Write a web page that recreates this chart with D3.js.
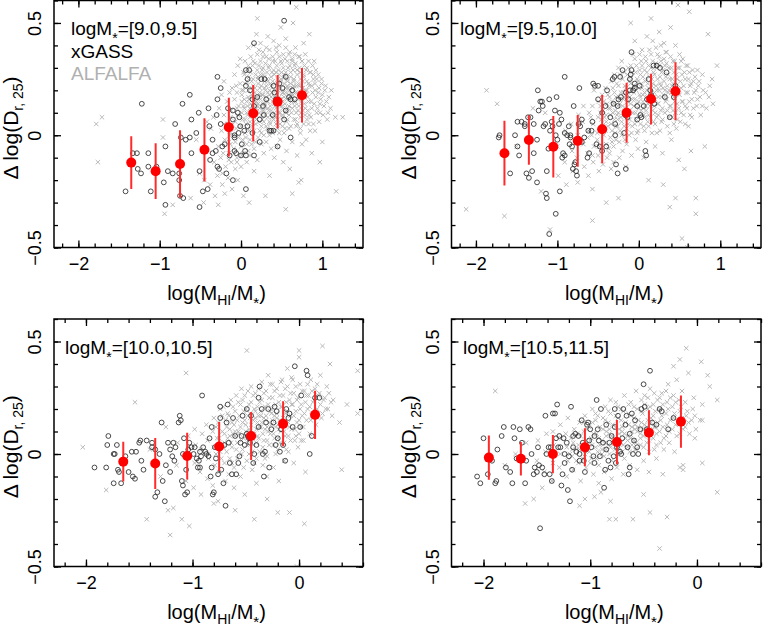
<!DOCTYPE html>
<html><head><meta charset="utf-8">
<script src="https://cdn.jsdelivr.net/npm/d3@7"></script>
<style>body{margin:0;background:#fff}svg text{font-family:"Liberation Sans",Arial,Helvetica,sans-serif}</style>
</head><body><svg id="c" width="763" height="631"></svg>
<script>
// ---------------- DATA ----------------
const massBins = ["9.0,9.5","9.5,10.0","10.0,10.5","10.5,11.5"];
const xDomains = [[-2.3,1.5],[-2.3,1.5],[-2.3,0.6],[-2.3,0.6]];
const yDomain = [-0.5,0.6];
const xTickValues = [[-2,-1,0,1],[-2,-1,0,1],[-2,-1,0],[-2,-1,0]];
const yTickValues = [-0.5,0,0.5];
const legendNames = ["xGASS","ALFALFA"];

// running medians (red) with error bars
const medX1 = [-1.35,-1.05,-0.75,-0.45,-0.15,0.15,0.45,0.75];
const medY1 = [-0.122,-0.160,-0.128,-0.065,0.036,0.098,0.149,0.178];
const medE1 = [0.117,0.124,0.150,0.141,0.131,0.126,0.119,0.121];
const medX2 = [-1.65,-1.35,-1.05,-0.75,-0.45,-0.15,0.15,0.45];
const medY2 = [-0.080,-0.021,-0.051,-0.025,0.027,0.100,0.161,0.196];
const medE2 = [0.144,0.110,0.137,0.115,0.152,0.134,0.113,0.129];
const medX3 = [-1.65,-1.35,-1.05,-0.75,-0.45,-0.15,0.15];
const medY3 = [-0.034,-0.042,-0.009,0.033,0.080,0.134,0.174];
const medE3 = [0.088,0.113,0.104,0.109,0.107,0.100,0.107];
const medX4 = [-1.95,-1.65,-1.35,-1.05,-0.75,-0.45,-0.15];
const medY4 = [-0.016,-0.021,0.000,0.030,0.053,0.095,0.144];
const medE4 = [0.098,0.074,0.085,0.084,0.098,0.100,0.116];

// xGASS galaxies (open circles), flat x,y lists
const xgass1 = [-1.22,.14,-.63,.18,-.72,.14,-.29,.26,-.25,.21,-1.42,-.25,-1.33,-.08,-1.28,-.08,-1.14,-.08,-1.14,-.14,-1.23,-.17,-1.27,-.15,-1.11,-.25,-1.04,-.14,-.95,-.21,-.93,-.05,-.90,-.16,-.84,-.17,-.93,-.31,-.81,.05,-.76,-.17,-.76,-.20,-.75,-.27,-.71,-.28,-.68,-.02,-.74,-.01,-.61,-.08,-.63,-.01,-.55,.01,-.51,-.16,-.47,-.25,-.41,-.24,-.51,-.32,-.61,.07,-.52,.10,-.40,.12,-.39,.04,-.35,-.02,-.30,.09,-.29,.16,-.25,.05,-.29,-.14,-.27,-.15,-.23,-.05,-.18,-.17,-.16,.12,-.14,.03,-.10,.11,-.10,-.20,-.08,-.07,-.06,-.08,-.04,.10,-.02,.08,-.01,.04,0,-.09,.05,-.07,.06,-.24,.06,-.09,.08,.25,.06,.22,.06,.29,.10,.29,.11,.20,.16,.41,.16,.13,.16,-.09,.20,.17,.23,-.03,.25,.25,.28,.09,.29,.25,.31,.16,.35,.02,.37,.02,.39,.09,.40,.02,.41,.19,.45,-.05,.47,.23,.51,.21,.53,.51,.53,.07,.55,.11,.59,.17,.61,.16,.61,-.01,.63,.20,.66,.16,.55,.26,.40,.22,-.03,.01,-.08,0,.04,.02,.14,.01,.08,.04,.23,.07,-.10,.07,.14,.16,.27,.13,.43,.16,-.31,-.07,-.35,-.08,-.38,-.11,-.20,-.04,-.14,-.09,-.08,-.01,.01,-.04];
const xgass2 = [-1.72,-.01,-1.71,0,-1.58,-.17,-1.52,0,-1.49,-.05,-1.49,.06,-1.47,-.09,-1.44,.06,-1.40,.05,-1.40,.04,-1.36,.08,-1.33,.08,-1.38,-.17,-1.35,-.19,-1.31,-.16,-1.25,-.21,-1.29,-.08,-1.29,.05,-1.25,-.02,-1.24,.20,-1.23,.11,-1.21,.15,-1.19,.15,-1.18,.13,-1.17,.04,-1.15,.05,-1.13,-.16,-1.14,-.26,-1.13,-.28,-1.11,-.06,-1.10,.16,-1.09,.02,-1.07,.06,-1.06,.04,-1.05,-.05,-1.03,.11,-1.02,0,-1.01,.17,-1.00,-.02,-.98,.05,-.97,.10,-.97,-.25,-.95,.07,-.94,-.10,-.93,-.08,-.91,.26,-.91,.01,-.91,-.09,-.88,0,-.86,.04,-.85,-.04,-.84,-.01,-.84,0,-.82,-.05,-.81,-.15,-.80,.13,-.79,-.13,-.78,-.12,-.77,-.16,-.76,-.18,-.74,.05,-.73,.21,-.72,.04,-.70,.07,-.70,-.03,-.67,-.01,-.63,-.10,-.62,.02,-.61,-.08,-.58,.02,-.57,.06,-.56,.23,-.54,.22,-.52,-.04,-.50,.16,-.50,.22,-.48,-.05,-.45,-.07,-.45,.10,-.41,.13,-.40,-.05,-.39,.20,-.35,.08,-.32,.25,-.31,.14,-.30,.26,-.29,.05,-.29,0,-.28,-.13,-.26,-.17,-.25,.16,-.26,.13,-.23,.26,-.22,.17,-.20,.29,-.18,.01,-.17,.09,-.16,.19,-.16,-.15,-.14,.08,-.13,.16,-.11,.25,-.11,.20,-.10,.27,-.09,.37,-.09,.29,-.07,.20,-.05,.23,-.05,.21,-.02,.13,-.02,.07,.01,.22,.02,.09,.03,.08,.06,.13,.08,-.07,.09,-.09,.10,.16,.12,.25,.14,.20,.15,.18,.18,.31,.19,.14,.22,.31,.26,.30,.32,.17,.34,.28,.38,.08,.43,.17,.45,.22,-1.02,-.35,-1.10,-.44];
const xgass3 = [-1.92,-.06,-1.81,-.06,-1.80,.04,-1.79,.08,-1.74,0,-1.73,0,-1.74,-.13,-1.70,-.07,-1.69,-.08,-1.71,.04,-1.67,-.13,-1.63,-.01,-1.60,-.08,-1.57,.01,-1.56,-.10,-1.54,-.11,-1.53,.01,-1.50,.05,-1.49,.06,-1.48,-.03,-1.46,-.07,-1.43,.06,-1.38,.03,-1.38,.05,-1.35,.02,-1.35,-.19,-1.33,-.17,-1.31,0,-1.29,.14,-1.28,-.12,-1.26,-.21,-1.25,-.05,-1.23,.05,-1.21,.02,-1.21,-.08,-1.19,-.01,-1.18,.05,-1.17,-.03,-1.16,.03,-1.13,.14,-1.12,.17,-1.11,.15,-1.10,-.12,-1.09,-.14,-1.09,0,-1.08,.07,-1.07,-.18,-1.05,-.17,-1.06,-.01,-1.06,-.07,-1.04,.02,-1.03,.05,-1.01,.03,-.99,0,-.98,.03,-.96,-.02,-.95,-.06,-.94,-.03,-.93,.01,-.93,-.06,-.92,-.01,-.91,.26,-.90,.03,-.88,.01,-.87,0,-.85,-.01,-.84,.07,-.83,-.10,-.82,-.06,-.82,.12,-.81,-.18,-.80,-.17,-.79,.03,-.78,-.02,-.76,-.09,-.74,.16,-.74,.21,-.73,-.07,-.71,-.13,-.70,.04,-.69,-.23,-.68,.14,-.67,.22,-.66,.05,-.65,-.04,-.63,-.09,-.62,.16,-.60,.08,-.59,-.09,-.57,-.04,-.56,-.01,-.55,.05,-.54,.08,-.53,.17,-.51,.04,-.49,.20,-.49,.09,-.48,.08,-.47,.07,-.46,.05,-.45,.17,-.43,-.04,-.42,0,-.40,.04,-.38,.25,-.38,.12,-.37,.30,-.35,.20,-.34,0,-.33,-.10,-.32,.01,-.31,.14,-.29,.20,-.28,-.06,-.26,.11,-.24,.14,-.23,.21,-.22,.04,-.21,.19,-.20,.07,-.18,.01,-.17,.11,-.15,.04,-.13,-.03,-.12,.20,-.10,.16,-.09,.18,-.06,.12,-.04,.39,.01,.12,.02,.26,.07,.37,.08,.35,.10,0,.12,.08,.15,.25,.19,.25];
const xgass4 = [-2.06,-.10,-2.03,-.13,-2.00,.07,-1.96,-.09,-1.92,-.03,-1.89,-.13,-1.88,-.12,-1.87,.02,-1.83,.08,-1.81,.12,-1.79,-.06,-1.75,-.08,-1.73,-.13,-1.72,.12,-1.71,.07,-1.69,-.02,-1.66,.11,-1.64,.05,-1.61,-.13,-1.60,-.03,-1.58,.12,-1.56,.11,-1.55,0,-1.53,-.09,-1.52,-.06,-1.50,-.08,-1.49,.03,-1.48,-.05,-1.47,-.33,-1.45,-.06,-1.43,-.09,-1.42,.17,-1.41,0,-1.39,.03,-1.38,-.09,-1.37,.03,-1.36,-.12,-1.35,.18,-1.33,.18,-1.32,.07,-1.31,.22,-1.30,.03,-1.29,.08,-1.28,.03,-1.27,-.14,-1.26,-.09,-1.25,.07,-1.24,-.04,-1.24,0,-1.22,.05,-1.21,-.16,-1.20,-.01,-1.19,-.21,-1.18,.21,-1.17,-.07,-1.16,.08,-1.16,.03,-1.14,.09,-1.13,.01,-1.11,.08,-1.10,-.03,-1.10,0,-1.08,.15,-1.07,.05,-1.06,-.03,-1.05,-.08,-1.04,.02,-1.03,.13,-1.02,.14,-1.01,.06,-1.00,.11,-.99,.03,-.97,-.01,-.96,-.04,-.96,.08,-.94,.24,-.93,.11,-.92,.06,-.91,-.01,-.90,.20,-.88,.05,-.87,-.15,-.86,-.07,-.85,.13,-.85,.02,-.83,-.03,-.82,.05,-.81,-.06,-.80,.08,-.78,-.01,-.77,.20,-.77,.12,-.76,-.04,-.75,.03,-.74,.17,-.72,.01,-.71,0,-.70,.07,-.69,.20,-.67,.13,-.66,.17,-.65,.03,-.64,-.09,-.63,-.06,-.63,.09,-.61,.18,-.60,0,-.59,.06,-.58,.15,-.56,.03,-.55,0,-.53,.11,-.52,.20,-.50,.31,-.49,.21,-.47,.11,-.46,.10,-.44,.37,-.42,.14,-.38,.13,-.35,.20,-.33,.19,-.27,.11,-.22,.16];

// ALFALFA galaxies (grey crosses), flat x,y lists
const alfalfa1 = [-.38,-.22,-.37,.03,-.33,-.12,-.34,.08,-.32,-.27,-.28,-.05,-.29,-.18,-.27,.12,-.28,-.31,-.24,.02,-.25,-.10,-.23,-.22,-.24,.18,-.20,-.02,-.21,.09,-.19,-.14,-.20,-.26,-.21,.24,-.16,.05,-.15,-.08,-.17,.15,-.16,-.19,-.15,-.03,-.12,.11,-.13,-.04,-.11,.21,-.12,-.12,-.13,.01,-.11,-.24,-.08,.16,-.07,.06,-.09,-.06,-.08,.27,-.07,-.15,-.09,0,-.04,.09,-.05,.19,-.03,-.01,-.04,.31,-.05,-.10,-.03,.13,-.04,-.20,0,.04,.01,.15,-.01,.23,0,-.05,.01,.10,-.01,.34,0,-.14,.01,.18,.04,.12,.03,.20,.05,.01,.04,.27,.03,-.08,.05,.07,.04,.16,.03,-.27,.08,.09,.09,.17,.07,.24,.08,.03,.09,.31,.07,-.04,.08,.13,.09,.39,.07,-.12,.12,.14,.11,.06,.13,.21,.12,.28,.11,-.02,.13,.11,.12,.35,.11,-.09,.13,.18,.16,.10,.17,.19,.15,.25,.16,.02,.17,.15,.15,.33,.16,-.06,.17,.08,.15,.22,.16,-.16,.20,.13,.19,.07,.21,.23,.20,.29,.19,.17,.21,-.01,.20,.36,.19,.10,.21,.26,.20,-.11,.19,.45,.24,.16,.25,.09,.23,.21,.24,.27,.25,.04,.23,.12,.24,.33,.25,-.04,.23,.19,.24,.41,.28,.11,.27,.18,.29,.24,.28,.06,.27,.30,.29,.14,.28,0,.27,.37,.29,.21,.28,-.08,.27,.27,.32,.15,.33,.08,.31,.22,.32,.28,.33,.12,.31,.35,.32,.03,.33,.19,.31,-.03,.32,.25,.33,.44,.36,.13,.35,.20,.37,.26,.36,.09,.35,.31,.37,.17,.36,.05,.35,.38,.37,-.06,.36,.23,.35,-.18,.40,.16,.41,.10,.39,.24,.40,.29,.41,.14,.39,.35,.40,.07,.41,.20,.39,.01,.40,.42,.41,-.10,.44,.18,.43,.12,.45,.25,.44,.31,.43,.08,.45,.22,.44,.37,.43,.15,.45,.03,.44,-.05,.43,.28,.48,.14,.49,.21,.47,.27,.48,.10,.49,.33,.47,.17,.48,.05,.49,.24,.47,.40,.48,-.02,.49,.48,.52,.19,.51,.12,.53,.26,.52,.30,.51,.08,.53,.23,.52,.36,.51,.15,.53,.01,.52,-.12,.56,.16,.57,.22,.55,.28,.56,.11,.57,.33,.55,.19,.56,.06,.57,.25,.55,.43,.56,-.07,.60,.20,.59,.13,.61,.26,.60,.31,.59,.09,.61,.17,.60,.37,.59,.03,.61,.23,.60,-.15,.64,.18,.65,.24,.63,.12,.64,.29,.65,.07,.63,.34,.64,.21,.65,.15,.63,-.03,.64,.50,.68,.22,.67,.15,.69,.27,.68,.10,.67,.32,.69,.19,.68,.04,.67,.39,.69,-.09,.72,.19,.73,.25,.71,.13,.72,.30,.73,.08,.71,.22,.72,.35,.73,.01,.71,-.21,.76,.21,.75,.16,.77,.27,.76,.11,.75,.33,.77,.05,.76,.24,.75,-.04,.77,.41,.80,.18,.81,.24,.79,.12,.80,.29,.81,.07,.79,.36,.80,-.02,.81,.20,.84,.22,.83,.15,.85,.28,.84,.09,.83,.33,.85,.02,.84,.45,.88,.19,.89,.25,.87,.12,.88,.31,.89,.05,.87,-.08,.92,.17,.91,.23,.93,.10,.92,.29,.91,.02,.96,.21,.97,.14,.95,.27,.96,.06,.97,-.12,1.0,.18,1.01,.09,.99,.25,1.0,-.03,1.05,.15,1.04,.22,1.06,.07,1.10,.12,1.11,.20,1.16,.08,1.17,-.25,1.25,.08,-1.78,.05,-1.71,.08,-1.76,-.12,-.96,.07,-.96,-.01,-.94,-.35,-.84,-.31,-.51,-.17,-.62,-.28,-.55,-.02,-.45,-.20,-.42,.06,.74,-.20,.55,-.33,.63,-.26,.30,-.27,.10,-.30,.68,.57,.20,.52,-.46,-.30,
 -.22,-.08,-.21,.05,-.23,-.17,-.14,0,-.13,.08,-.15,-.11,-.14,.19,-.06,.03,-.05,.12,-.07,-.03,-.06,.22,-.05,-.12,.02,.07,.03,.13,.01,.20,.02,-.02,.03,.28,.01,-.09,.06,.05,.07,.15,.05,.23,.06,-.01,.07,.10,.05,.33,.10,.02,.11,.12,.09,.20,.10,.26,.11,.08,.09,-.07,.10,.16,.14,.04,.15,.17,.13,.24,.14,.31,.15,.09,.13,-.04,.14,.13,.15,.40,.18,.05,.19,.12,.17,.21,.18,.27,.19,.15,.17,.32,.18,-.03,.19,.09,.22,.10,.23,.18,.21,.25,.22,.31,.23,.02,.21,.14,.22,.38,.23,.06,.26,.07,.27,.14,.25,.22,.26,.29,.27,.35,.25,.01,.26,.18,.27,.11,.30,.09,.31,.17,.29,.26,.30,.32,.31,.04,.29,.13,.30,.20,.31,.39,.34,.11,.35,.18,.33,.24,.34,.30,.35,.06,.33,.15,.34,.34,.35,0,.38,.08,.39,.15,.37,.22,.38,.28,.39,.33,.37,.11,.38,.19,.39,.02,.42,.13,.43,.20,.41,.27,.42,.33,.43,.05,.41,.17,.42,.23,.43,.39,.46,.10,.47,.16,.45,.23,.46,.29,.47,.35,.45,.07,.46,.20,.47,.01,.50,.13,.51,.19,.49,.25,.50,.32,.51,.09,.49,.16,.50,.28,.51,.04,.54,.14,.55,.21,.53,.27,.54,.34,.55,.10,.53,.17,.54,.03,.55,.39,.58,.12,.59,.18,.57,.24,.58,.30,.59,.36,.57,.07,.58,.21,.62,.15,.63,.21,.61,.28,.62,.10,.63,.33,.61,.04,.62,.18,.66,.13,.67,.19,.65,.25,.66,.31,.67,.07,.65,.22,.66,.36,.70,.16,.71,.23,.69,.29,.70,.11,.71,.35,.69,.05,.74,.15,.75,.21,.73,.28,.74,.10,.75,.33,.73,.03,.78,.14,.79,.20,.77,.26,.78,.31,.79,.09,.82,.17,.83,.23,.81,.30,.82,.11,.83,.05,.86,.15,.87,.22,.85,.28,.86,.08,.90,.14,.91,.20,.89,.27,.90,.33,.94,.12,.95,.19,.93,.25,.98,.16,.99,.23,.97,.10,1.02,.13,1.03,.20,1.08,.17,1.07,.10];
const alfalfa2 = [-1.0,-.05,-.99,-.18,-.90,.02,-.91,-.12,-.89,-.22,-.82,-.07,-.83,.05,-.81,-.16,-.75,0,-.76,-.10,-.74,.09,-.75,-.21,-.68,-.04,-.69,.06,-.67,-.14,-.68,.13,-.62,.02,-.63,-.08,-.61,.10,-.62,-.18,-.63,-.01,-.56,.05,-.55,-.05,-.57,.13,-.56,-.12,-.55,.20,-.57,-.24,-.50,.08,-.51,-.02,-.49,.15,-.50,-.09,-.51,.01,-.49,-.16,-.45,.04,-.44,.11,-.46,-.06,-.45,.18,-.44,-.13,-.46,.07,-.40,.09,-.41,.02,-.39,.14,-.40,-.04,-.41,.21,-.39,-.10,-.40,.06,-.35,.12,-.34,.05,-.36,.17,-.35,-.01,-.34,.24,-.36,-.08,-.35,.09,-.34,-.15,-.30,.07,-.31,.14,-.29,.01,-.30,.19,-.31,-.05,-.29,.11,-.30,.27,-.31,-.12,-.25,.10,-.24,.16,-.26,.04,-.25,.22,-.24,-.03,-.26,.13,-.25,.30,-.24,-.10,-.26,.07,-.20,.13,-.21,.06,-.19,.19,-.20,.25,-.21,0,-.19,.10,-.20,-.07,-.21,.33,-.19,.16,-.15,.09,-.14,.15,-.16,.21,-.15,.03,-.14,.27,-.16,.12,-.15,-.04,-.14,.18,-.16,-.14,-.10,.14,-.11,.07,-.09,.20,-.10,.26,-.11,.11,-.09,.01,-.10,.31,-.11,.17,-.09,-.09,-.10,.23,-.05,.16,-.04,.10,-.06,.22,-.05,.05,-.04,.28,-.06,.13,-.05,.34,-.04,-.02,-.06,.19,-.05,.42,0,.12,.01,.18,-.01,.24,0,.08,.01,.29,-.01,.02,0,.15,.01,.36,-.01,-.06,0,.21,.05,.15,.04,.21,.06,.09,.05,.26,.04,.31,.06,.04,.05,.18,.04,.38,.06,-.10,.05,.12,.10,.17,.11,.23,.09,.11,.10,.28,.11,.06,.09,.33,.10,.20,.11,.14,.09,-.03,.10,.44,.15,.19,.14,.13,.16,.25,.15,.30,.14,.08,.16,.22,.15,.36,.14,.16,.16,.01,.15,.52,.20,.16,.21,.22,.19,.27,.20,.10,.21,.32,.19,.19,.20,.05,.21,.39,.19,.13,.20,-.05,.25,.20,.24,.14,.26,.26,.25,.31,.24,.09,.26,.23,.25,.35,.24,.17,.26,.02,.25,.46,.30,.18,.31,.24,.29,.12,.30,.29,.31,.34,.29,.07,.30,.21,.31,.41,.29,-.08,.35,.22,.34,.16,.36,.27,.35,.11,.34,.32,.36,.19,.35,.04,.34,.37,.40,.19,.41,.25,.39,.13,.40,.30,.41,.08,.39,.35,.40,-.02,.41,.22,.39,.48,.45,.21,.44,.15,.46,.27,.45,.10,.44,.33,.46,.03,.45,.40,.50,.18,.51,.24,.49,.12,.50,.30,.51,.06,.49,-.11,.50,.36,.55,.22,.54,.15,.56,.28,.55,.09,.54,.34,.56,-.15,.60,.19,.61,.25,.59,.12,.60,.31,.61,.04,.65,.16,.64,.23,.66,.29,.65,.08,.64,-.07,.70,.20,.71,.13,.69,.26,.70,-.28,.75,.17,.74,.24,.76,.09,.82,.19,.83,.12,.81,-.05,.90,.25,.91,.14,.96,.31,-2.12,-.33,-1.87,.20,-1.74,.14,-1.65,-.36,-1.09,-.42,-1.50,-.05,-1.30,.12,-1.20,-.25,-1.15,.10,-.57,-.38,.53,-.46,.60,-.50,.30,-.22,.45,-.28,.12,-.20,-.25,-.28,-.40,-.30,.70,-.35,.38,-.32,.62,.55,-.10,.50,.85,.45,.48,.58,
 -.58,0,-.59,.08,-.57,-.09,-.48,.02,-.47,.10,-.48,-.05,-.47,.13,-.43,0,-.42,.08,-.43,.15,-.38,.04,-.37,.12,-.38,.18,-.37,-.06,-.33,.02,-.32,.10,-.33,.15,-.32,.21,-.33,-.03,-.28,.04,-.27,.09,-.28,.17,-.27,.23,-.28,-.02,-.23,.02,-.22,.08,-.23,.14,-.22,.19,-.23,.27,-.18,.04,-.17,.11,-.18,.17,-.17,.22,-.18,.28,-.17,-.02,-.13,.05,-.12,.11,-.13,.19,-.12,.24,-.13,.30,-.12,0,-.08,.04,-.07,.10,-.08,.16,-.07,.22,-.08,.28,-.07,.36,-.03,.07,-.02,.14,-.03,.20,-.02,.25,-.03,.31,-.02,.01,.02,.05,.03,.11,.02,.17,.03,.23,.02,.27,.03,.33,.07,.08,.08,.13,.07,.19,.08,.24,.07,.29,.08,.35,.07,.02,.12,.09,.13,.15,.12,.21,.13,.26,.12,.31,.13,.38,.12,.04,.17,.11,.18,.17,.17,.23,.18,.28,.17,.33,.18,.06,.17,.42,.22,.08,.23,.14,.22,.20,.23,.25,.22,.30,.23,.36,.22,.01,.27,.11,.28,.17,.27,.22,.28,.28,.27,.33,.28,.06,.27,.40,.32,.10,.33,.15,.32,.20,.33,.26,.32,.31,.33,.37,.37,.08,.38,.13,.37,.20,.38,.25,.37,.30,.38,.01,.42,.11,.43,.17,.42,.23,.43,.28,.42,.33,.43,.05,.47,.14,.48,.19,.47,.25,.48,.30,.47,.07,.52,.10,.53,.15,.52,.21,.53,.27,.52,.33,.57,.13,.58,.19,.57,.25,.58,.31,.57,.05,.62,.15,.63,.22,.62,.28,.63,.09,.67,.12,.68,.19,.67,.24,.72,.16,.73,.22,.72,.29,.78,.13,.79,.20,.78,.27,.86,.17,.87,.22];
const alfalfa3 = [-1.15,-.05,-1.14,.05,-1.05,0,-1.06,-.12,-1.04,.08,-.98,-.04,-.97,.04,-.99,-.15,-.98,.11,-.92,.02,-.93,-.08,-.91,.09,-.92,-.18,-.86,.06,-.85,-.02,-.87,.13,-.86,-.11,-.85,0,-.80,.03,-.81,.10,-.79,-.05,-.80,.16,-.81,-.14,-.75,.07,-.74,.01,-.76,.14,-.75,-.08,-.74,.20,-.76,-.21,-.70,.09,-.71,.03,-.69,.15,-.70,-.04,-.71,.21,-.69,-.12,-.70,.05,-.65,.11,-.64,.05,-.66,.17,-.65,-.02,-.64,.24,-.66,-.09,-.65,.08,-.60,.08,-.61,.13,-.59,.02,-.60,.19,-.61,-.06,-.59,.26,-.60,.10,-.61,-.15,-.55,.12,-.54,.06,-.56,.17,-.55,.22,-.54,0,-.56,.09,-.55,-.10,-.54,.29,-.50,.10,-.51,.15,-.49,.04,-.50,.20,-.51,.26,-.49,-.03,-.50,.13,-.51,-.18,-.49,.08,-.45,.13,-.44,.07,-.46,.18,-.45,.23,-.44,.01,-.46,.10,-.45,.30,-.44,-.07,-.46,.16,-.40,.11,-.41,.16,-.39,.21,-.40,.05,-.41,.27,-.39,.14,-.40,-.02,-.41,.19,-.39,.08,-.40,-.13,-.35,.14,-.34,.09,-.36,.19,-.35,.24,-.34,.03,-.36,.12,-.35,.32,-.34,-.05,-.36,.17,-.30,.12,-.31,.17,-.29,.22,-.30,.06,-.31,.28,-.29,.10,-.30,-.01,-.31,.15,-.29,.35,-.30,-.10,-.25,.15,-.24,.09,-.26,.20,-.25,.25,-.24,.04,-.26,.13,-.25,.31,-.24,-.06,-.26,.18,-.20,.13,-.21,.18,-.19,.23,-.20,.07,-.21,.29,-.19,.11,-.20,.02,-.21,.16,-.19,-.12,-.15,.16,-.14,.10,-.16,.21,-.15,.26,-.14,.05,-.16,.33,-.15,.14,-.14,-.03,-.10,.14,-.11,.19,-.09,.24,-.10,.08,-.11,.30,-.09,.12,-.10,.01,-.11,.38,-.05,.17,-.04,.11,-.06,.22,-.05,.27,-.04,.06,-.06,.33,-.05,-.04,0,.15,.01,.20,-.01,.25,0,.09,.01,.31,-.01,.03,0,.43,.05,.18,.04,.12,.06,.23,.05,.28,.04,.06,.06,-.08,.10,.21,.11,.15,.09,.26,.10,.09,.11,.33,.15,.19,.14,.24,.16,.13,.15,.29,.20,.22,.21,.16,.19,.27,.20,.35,.25,.20,.24,.25,.26,.30,.30,.23,.31,.17,.38,.14,.45,.22,.55,.37,.55,.18,-2.03,.03,-1.54,.23,-1.81,-.16,-1.43,-.29,-1.23,-.25,-1.18,-.24,-1.10,-.29,-1.03,-.32,-1.21,-.36,-1.06,.36,-.49,.46,-.42,-.29,-.09,-.26,.05,-.31,0,.46,.22,.48,.29,.40,.40,-.07,.32,.24,-.60,-.25,-.80,-.22,-.30,-.20,-1.30,-.10,-1.40,.02,-1.25,.12,-.20,-.26,-.02,-.50,
 -.78,0,-.77,.07,-.78,.12,-.73,.04,-.72,.10,-.73,-.02,-.72,.17,-.68,.01,-.67,.07,-.68,.12,-.67,.18,-.63,.03,-.62,.09,-.63,.14,-.62,.21,-.63,-.04,-.58,.05,-.57,.10,-.58,.15,-.57,.23,-.58,-.02,-.53,.02,-.52,.07,-.53,.14,-.52,.19,-.53,.24,-.52,-.06,-.48,.06,-.47,.11,-.48,.17,-.47,.22,-.48,.28,-.47,0,-.43,.04,-.42,.09,-.43,.15,-.42,.20,-.43,.26,-.42,-.04,-.38,.07,-.37,.12,-.38,.17,-.37,.23,-.38,.29,-.37,.01,-.33,.06,-.32,.11,-.33,.16,-.32,.21,-.33,.27,-.32,-.02,-.28,.04,-.27,.09,-.28,.14,-.27,.19,-.28,.25,-.27,.31,-.23,.07,-.22,.12,-.23,.17,-.22,.22,-.23,.28,-.22,0,-.18,.05,-.17,.10,-.18,.15,-.17,.21,-.18,.26,-.17,.32,-.13,.08,-.12,.13,-.13,.18,-.12,.23,-.13,.29,-.12,.02,-.08,.06,-.07,.11,-.08,.17,-.07,.22,-.08,.27,-.07,.34,-.03,.08,-.02,.14,-.03,.19,-.02,.24,-.03,.30,.02,.12,.03,.17,.02,.22,.03,.28,.02,.06,.07,.15,.08,.20,.07,.26,.08,.31,.12,.17,.13,.23,.12,.28,.17,.20,.18,.26,.17,.31,.22,.18,.23,.24,.28,.27,.27,.20];
const alfalfa4 = [-1.50,-.03,-1.49,.06,-1.42,.01,-1.43,-.08,-1.41,.09,-1.35,-.04,-1.34,.04,-1.36,-.12,-1.35,.10,-1.28,0,-1.29,-.06,-1.27,.07,-1.28,.13,-1.22,.03,-1.21,-.03,-1.23,.09,-1.22,-.10,-1.21,.16,-1.16,.05,-1.17,-.01,-1.15,.11,-1.16,-.07,-1.17,.02,-1.10,.02,-1.09,.08,-1.11,-.04,-1.10,.14,-1.09,-.12,-1.11,.04,-1.04,.06,-1.05,0,-1.03,.11,-1.04,-.06,-1.05,.17,-1.03,.03,-.98,.04,-.97,.09,-.99,-.02,-.98,.14,-.97,-.09,-.99,.07,-.98,.20,-.92,.07,-.93,.01,-.91,.12,-.92,-.05,-.93,.17,-.91,.04,-.92,-.13,-.86,.05,-.85,.10,-.87,-.01,-.86,.15,-.85,.02,-.87,-.08,-.86,.21,-.85,.08,-.80,.08,-.81,.03,-.79,.13,-.80,-.03,-.81,.18,-.79,.06,-.80,-.11,-.81,.24,-.74,.06,-.73,.11,-.75,0,-.74,.16,-.73,.09,-.75,-.06,-.74,.21,-.73,.03,-.68,.09,-.69,.04,-.67,.14,-.68,-.02,-.69,.19,-.67,.07,-.68,.26,-.69,-.09,-.62,.07,-.61,.12,-.63,.01,-.62,.17,-.61,.10,-.63,-.05,-.62,.23,-.61,.04,-.56,.10,-.57,.05,-.55,.15,-.56,.20,-.57,.02,-.55,.12,-.56,-.07,-.57,.28,-.50,.08,-.49,.13,-.51,.18,-.50,.03,-.49,.22,-.51,.11,-.50,-.03,-.49,.26,-.44,.11,-.45,.06,-.43,.16,-.44,.21,-.45,.01,-.43,.14,-.44,.29,-.45,-.08,-.38,.09,-.37,.14,-.39,.19,-.38,.04,-.37,.24,-.39,.12,-.38,-.02,-.32,.12,-.33,.17,-.31,.07,-.32,.22,-.33,.27,-.31,.02,-.32,-.09,-.26,.10,-.25,.15,-.27,.20,-.26,.05,-.25,.25,-.27,.31,-.20,.13,-.21,.18,-.19,.08,-.20,.23,-.21,.01,-.19,.33,-.14,.16,-.13,.11,-.15,.21,-.14,.28,-.13,-.05,-.08,.14,-.09,.19,-.07,.09,-.08,.36,-.02,.17,-.01,.11,-.03,.25,.05,.22,.05,.15,.12,.30,.19,.24,.19,-.17,-1.89,.28,-1.61,-.22,-1.53,-.20,-1.10,-.23,-1.05,-.20,-.96,-.19,-.81,-.21,-.82,-.29,-.76,-.29,-.60,-.29,-.44,-.26,-.28,-.28,-.35,-.42,-.10,.47,.04,.41,-.16,.42,-.22,.39,.03,.15,-.02,.07,-.16,-.06,-.13,-.07,-1.70,0,-1.80,-.05,-1.60,.05,-1.45,-.15,-.50,-.18,-.90,-.17,.10,.35,.05,-.04,
 -1.19,0,-1.18,.07,-1.13,.02,-1.12,.09,-1.13,-.03,-1.07,.04,-1.06,.10,-1.07,-.02,-1.06,.14,-1.01,.01,-1.00,.06,-1.01,.12,-1.00,-.04,-.95,.03,-.94,.09,-.95,.15,-.94,-.02,-.95,.18,-.89,.06,-.88,.11,-.89,0,-.88,.16,-.89,.02,-.83,.04,-.82,.09,-.83,.14,-.82,0,-.83,.19,-.82,.11,-.77,.07,-.76,.12,-.77,.02,-.76,.17,-.77,.05,-.76,.23,-.71,.05,-.70,.10,-.71,.15,-.70,.01,-.71,.20,-.70,.12,-.65,.08,-.64,.13,-.65,.03,-.64,.18,-.65,.06,-.64,.22,-.59,.06,-.58,.11,-.59,.16,-.58,.02,-.59,.21,-.58,.13,-.53,.09,-.52,.14,-.53,.04,-.52,.19,-.53,.07,-.52,.24,-.47,.10,-.46,.15,-.47,.05,-.46,.20,-.47,.12,-.46,.25,-.41,.07,-.40,.12,-.41,.17,-.40,.02,-.41,.22,-.40,.27,-.35,.10,-.34,.15,-.35,.20,-.34,.05,-.35,.25,-.29,.08,-.28,.13,-.29,.18,-.28,.23,-.29,.28,-.23,.11,-.22,.16,-.23,.21,-.22,.26,-.17,.14,-.16,.19,-.17,.24,-.16,.09,-.11,.12,-.10,.17,-.11,.23,-.05,.15,-.04,.20];

// ---------------- DRAWING ----------------
const svg = d3.select('#c');
const defs = svg.append('defs');
const FONT = '"Liberation Sans",Arial,Helvetica,sans-serif';
const layout = [
  {l:54,  r:363, t:0.5, b:247.5, lx:71,  ly:35},
  {l:451.5, r:761, t:0.5, b:247.5, lx:460, ly:35},
  {l:54,  r:363, t:319, b:566.5, lx:65,  ly:354},
  {l:451.5, r:761, t:319, b:566.5, lx:463, ly:354}
];
const panels = [
  {bin:massBins[0], xd:xDomains[0], xt:xTickValues[0], alf:alfalfa1, xg:xgass1, mx:medX1, my:medY1, me:medE1, legend:true},
  {bin:massBins[1], xd:xDomains[1], xt:xTickValues[1], alf:alfalfa2, xg:xgass2, mx:medX2, my:medY2, me:medE2},
  {bin:massBins[2], xd:xDomains[2], xt:xTickValues[2], alf:alfalfa3, xg:xgass3, mx:medX3, my:medY3, me:medE3},
  {bin:massBins[3], xd:xDomains[3], xt:xTickValues[3], alf:alfalfa4, xg:xgass4, mx:medX4, my:medY4, me:medE4}
];
const pairs = a => d3.range(0, a.length, 2).map(k => [a[k], a[k+1]]);
const fmt = d => (d < 0 ? '\u2212' : '') + Math.abs(d);

panels.forEach((p, i) => {
  const L = layout[i];
  const x = d3.scaleLinear().domain(p.xd).range([L.l, L.r]);
  const y = d3.scaleLinear().domain(yDomain).range([L.b, L.t]);
  defs.append('clipPath').attr('id', 'cp' + i).append('rect')
    .attr('x', L.l).attr('y', L.t).attr('width', L.r - L.l).attr('height', L.b - L.t);
  const g = svg.append('g').attr('clip-path', `url(#cp${i})`);

  g.append('g').selectAll('path').data(pairs(p.alf)).join('path')
    .attr('d', d => `M${x(d[0]) - 2.2},${y(d[1]) - 2.2}l4.4,4.4m0,-4.4l-4.4,4.4`)
    .attr('stroke', '#b4b4b4').attr('stroke-width', 0.95).attr('fill', 'none');

  g.append('g').selectAll('circle').data(pairs(p.xg)).join('circle')
    .attr('cx', d => x(d[0])).attr('cy', d => y(d[1])).attr('r', 2.4)
    .attr('fill', 'none').attr('stroke', '#2a2a2a').attr('stroke-width', 0.85);

  const med = p.mx.map((v, k) => ({x: v, y: p.my[k], e: p.me[k]}));
  g.append('g').selectAll('line').data(med).join('line')
    .attr('x1', d => x(d.x)).attr('x2', d => x(d.x))
    .attr('y1', d => y(d.y - d.e)).attr('y2', d => y(d.y + d.e))
    .attr('stroke', '#ff2a2a').attr('stroke-width', 2);
  g.append('g').selectAll('circle').data(med).join('circle')
    .attr('cx', d => x(d.x)).attr('cy', d => y(d.y)).attr('r', 5)
    .attr('fill', '#ff0000');

  const minorX = d3.range(Math.ceil(p.xd[0] / 0.2 - 1e-9), Math.floor(p.xd[1] / 0.2 + 1e-9) + 1).map(k => +(k * 0.2).toFixed(2));
  const minorY = d3.range(-5, 7).map(k => +(k * 0.1).toFixed(2)).filter(v => v <= yDomain[1]);
  const style = sel => {
    sel.select('.domain').remove();
    sel.selectAll('line').attr('stroke', '#000').attr('stroke-width', 1.3);
    sel.attr('font-size', 18).attr('font-family', FONT);
  };
  svg.append('g').attr('transform', `translate(0,${L.b})`)
    .call(d3.axisBottom(x).tickValues(minorX).tickSize(-4).tickFormat('')).call(style);
  svg.append('g').attr('transform', `translate(0,${L.b})`)
    .call(d3.axisBottom(x).tickValues(p.xt).tickSize(-7).tickPadding(10).tickFormat(fmt)).call(style);
  svg.append('g').attr('transform', `translate(0,${L.t})`)
    .call(d3.axisTop(x).tickValues(minorX).tickSize(-4).tickFormat('')).call(style);
  svg.append('g').attr('transform', `translate(0,${L.t})`)
    .call(d3.axisTop(x).tickValues(p.xt).tickSize(-7).tickFormat('')).call(style);
  svg.append('g').attr('transform', `translate(${L.l},0)`)
    .call(d3.axisLeft(y).tickValues(minorY).tickSize(-4).tickFormat('')).call(style);
  const yl = svg.append('g').attr('transform', `translate(${L.l},0)`)
    .call(d3.axisLeft(y).tickValues(yTickValues).tickSize(-7).tickFormat(fmt)).call(style);
  yl.selectAll('text').attr('x', 0).attr('y', -13).attr('dy', null)
    .attr('text-anchor', 'middle').attr('transform', 'rotate(-90)');
  svg.append('g').attr('transform', `translate(${L.r},0)`)
    .call(d3.axisRight(y).tickValues(minorY).tickSize(-4).tickFormat('')).call(style);
  svg.append('g').attr('transform', `translate(${L.r},0)`)
    .call(d3.axisRight(y).tickValues(yTickValues).tickSize(-7).tickFormat('')).call(style);

  svg.append('rect').attr('x', L.l).attr('y', L.t).attr('width', L.r - L.l).attr('height', L.b - L.t)
    .attr('fill', 'none').attr('stroke', '#000').attr('stroke-width', 1.5);

  // x title
  const xt = svg.append('text').attr('x', (L.l + L.r) / 2 + 8).attr('y', L.b + 52)
    .attr('text-anchor', 'middle').attr('font-size', 20).attr('font-family', FONT);
  xt.append('tspan').text('log(M');
  xt.append('tspan').attr('dy', 5).attr('font-size', 14).text('HI');
  xt.append('tspan').attr('dy', -5).text('/M');
  xt.append('tspan').attr('dy', 8).attr('font-size', 15).text('*');
  xt.append('tspan').attr('dy', -8).text(')');

  // y title
  const yt = svg.append('text')
    .attr('transform', `translate(${L.l - 36},${(L.t + L.b) / 2 + 4}) rotate(-90)`)
    .attr('text-anchor', 'middle').attr('font-size', 21).attr('font-family', FONT);
  yt.append('tspan').text('\u0394 log(D');
  yt.append('tspan').attr('dy', 5).attr('font-size', 14).text('r, 25');
  yt.append('tspan').attr('dy', -5).text(')');

  // mass bin label
  const lab = svg.append('text').attr('x', L.lx).attr('y', L.ly)
    .attr('font-size', 19).attr('font-family', FONT);
  lab.append('tspan').text('logM');
  lab.append('tspan').attr('dy', 8).attr('font-size', 14).text('*');
  lab.append('tspan').attr('dy', -8).text('=[' + p.bin + ']');

  if (p.legend) {
    svg.append('text').attr('x', L.lx).attr('y', L.ly + 23).attr('font-size', 19)
      .attr('font-family', FONT).attr('fill', '#000').text(legendNames[0]);
    svg.append('text').attr('x', L.lx).attr('y', L.ly + 45).attr('font-size', 19)
      .attr('font-family', FONT).attr('fill', '#b0b0b0').text(legendNames[1]);
  }
});
</script>
</body></html>
